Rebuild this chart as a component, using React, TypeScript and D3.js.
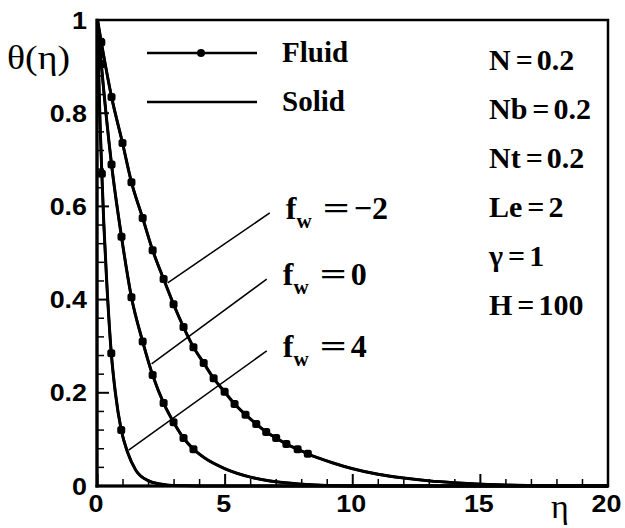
import React from "react";
import * as d3 from "d3";

// ---- data ----
const etaFw4 = [0, 0.05, 0.1, 0.17, 0.25, 0.35, 0.54, 0.7, 0.93, 1.18, 1.5, 2, 2.5, 3, 4, 20];
const thetaFw4 = [1, 0.88, 0.78, 0.67, 0.56, 0.45, 0.285, 0.2, 0.12, 0.072, 0.034, 0.011, 0.004, 0.001, 0, 0];
const markEtaFw4 = [0.17, 0.54, 0.93];
const markThetaFw4 = [0.67, 0.285, 0.12];

const etaFw0 = [0, 0.15, 0.55, 0.94, 1.33, 1.77, 2.16, 2.59, 2.98, 3.37, 3.76, 4.2, 5, 6, 7, 8, 9, 10, 20];
const thetaFw0 = [1, 0.905, 0.69, 0.535, 0.405, 0.31, 0.238, 0.178, 0.137, 0.103, 0.079, 0.06, 0.037, 0.019, 0.009, 0.004, 0.001, 0, 0];
const markEtaFw0 = [0.15, 0.55, 0.94, 1.33, 1.77, 2.16, 2.59, 2.98, 3.37, 3.76];
const markThetaFw0 = [0.905, 0.69, 0.535, 0.405, 0.31, 0.238, 0.178, 0.137, 0.103, 0.079];

const etaFwm2 = [0, 0.15, 0.55, 0.98, 1.33, 1.77, 2.16, 2.59, 2.98, 3.37, 3.76, 4.16, 4.55, 4.98, 5.37, 5.8, 6.22, 6.61, 7.0, 7.4, 7.84, 8.24, 9.2, 10, 11, 12, 13, 14, 15, 16, 17, 18, 20];
const thetaFwm2 = [1, 0.952, 0.835, 0.736, 0.652, 0.575, 0.506, 0.444, 0.39, 0.341, 0.298, 0.264, 0.231, 0.202, 0.176, 0.153, 0.133, 0.116, 0.103, 0.09, 0.079, 0.069, 0.05, 0.037, 0.025, 0.017, 0.011, 0.007, 0.004, 0.002, 0.001, 0, 0];
const markEtaFwm2 = [0.15, 0.55, 0.98, 1.33, 1.77, 2.16, 2.59, 2.98, 3.37, 3.76, 4.16, 4.55, 4.98, 5.37, 5.8, 6.22, 6.61, 7.0, 7.4, 7.84, 8.24];
const markThetaFwm2 = [0.952, 0.835, 0.736, 0.652, 0.575, 0.506, 0.444, 0.39, 0.341, 0.298, 0.264, 0.231, 0.202, 0.176, 0.153, 0.133, 0.116, 0.103, 0.09, 0.079, 0.069];

// solid phase profiles coincide with the fluid ones (H = 100)
const solidEta = [etaFwm2, etaFw0, etaFw4];
const solidTheta = [thetaFwm2, thetaFw0, thetaFw4];

const xTicks = [0, 5, 10, 15, 20];
const xTickLabels = ["0", "5", "10", "15", "20"];
const yTicks = [0, 0.2, 0.4, 0.6, 0.8, 1];
const yTickLabels = ["0", "0.2", "0.4", "0.6", "0.8", "1"];

const paramNames = ["N", "Nb", "Nt", "Le", "γ", "H"];
const paramValues = ["0.2", "0.2", "0.2", "2", "1", "100"];
const annotValues = ["−2", "0", "4"];
const annotFrom = [[2.75, 0.436], [2.12, 0.262], [1.22, 0.077]];
const annotTo = [[6.75, 0.586], [6.63, 0.444], [6.63, 0.29]];
const legendLabels = ["Fluid", "Solid"];

const W = 625, H = 528;
const x = d3.scaleLinear().domain([0, 20]).range([97.5, 608]);
const y = d3.scaleLinear().domain([0, 1]).range([486, 20]);

const fluidSets = [
  { eta: etaFwm2, th: thetaFwm2, me: markEtaFwm2, mt: markThetaFwm2 },
  { eta: etaFw0, th: thetaFw0, me: markEtaFw0, mt: markThetaFw0 },
  { eta: etaFw4, th: thetaFw4, me: markEtaFw4, mt: markThetaFw4 },
];

const SANS = "'Liberation Sans', Arimo, Arial, sans-serif";
const SERIF = "'Liberation Serif', Tinos, 'Times New Roman', serif";

export default function App() {
  const line = d3
    .line<[number, number]>()
    .x((d) => x(d[0]))
    .y((d) => y(d[1]))
    .curve(d3.curveMonotoneX);

  const xMinor = d3.range(0, 20.001, 1).filter((v) => Math.abs(v % 5) > 1e-6);
  const yMinor = d3.range(0, 1.0001, 0.04).filter((v) => Math.abs((v / 0.2) - Math.round(v / 0.2)) > 1e-6);

  const sansBold = { fontFamily: SANS, fontWeight: 700, fontSize: 24 } as const;
  const serifBold = { fontFamily: SERIF, fontWeight: 700, fontSize: 30 } as const;
  const serif = { fontFamily: SERIF, fontSize: 34 } as const;

  return (
    <svg width={W} height={H} style={{ position: "absolute", left: 0, top: 0, background: "#fff" }}>
      <rect x={0} y={0} width={W} height={H} fill="#fff" />
      {/* solid curves */}
      {solidEta.map((eta, i) => (
        <path key={"s" + i} d={line(eta.map((e, j) => [e, solidTheta[i][j]]) as [number, number][]) || ""} fill="none" stroke="#000" strokeWidth={3} />
      ))}
      {/* fluid curves */}
      {fluidSets.map((s, i) => (
        <g key={"f" + i}>
          <path d={line(s.eta.map((e, j) => [e, s.th[j]]) as [number, number][]) || ""} fill="none" stroke="#000" strokeWidth={2.6} />
          {s.me.map((e, j) => (
            <rect key={j} x={x(e) - 4} y={y(s.mt[j]) - 4} width={8} height={8} rx={2.5} fill="#000" />
          ))}
        </g>
      ))}
      {/* annotation leader lines */}
      {annotFrom.map((f, i) => (
        <line key={"a" + i} x1={x(f[0])} y1={y(f[1])} x2={x(annotTo[i][0])} y2={y(annotTo[i][1])} stroke="#000" strokeWidth={1.5} />
      ))}
      {annotValues.map((v, i) => {
        const bx = x(annotTo[i][0]) + 16;
        const by = y(annotTo[i][1]) + 6;
        return (
          <g key={"at" + i}>
            <text x={bx} y={by} style={{ ...serifBold, fontSize: 32 }}>
              f
              <tspan dy={9} style={{ fontSize: 21 }}>w</tspan>
            </text>
            <text x={bx + 37} y={by} style={{ ...serifBold, fontSize: 32 }} textLength={27} lengthAdjust="spacingAndGlyphs">=</text>
            <text x={bx + 68} y={by} style={{ ...serifBold, fontSize: 32 }}>{v}</text>
          </g>
        );
      })}
      {/* frame */}
      <rect x={97} y={20} width={511} height={466} fill="none" stroke="#000" strokeWidth={2.5} />
      <line x1={97} y1={18.8} x2={97} y2={487.5} stroke="#000" strokeWidth={3.2} />
      <line x1={95.5} y1={486} x2={609} y2={486} stroke="#000" strokeWidth={3.2} />
      {/* ticks */}
      {xTicks.map((t) => (
        <line key={"xt" + t} x1={x(t)} x2={x(t)} y1={486} y2={474} stroke="#000" strokeWidth={2} />
      ))}
      {xMinor.map((t) => (
        <line key={"xm" + t} x1={x(t)} x2={x(t)} y1={486} y2={479} stroke="#000" strokeWidth={1.5} />
      ))}
      {yTicks.map((t) => (
        <line key={"yt" + t} x1={97} x2={109} y1={y(t)} y2={y(t)} stroke="#000" strokeWidth={2} />
      ))}
      {yMinor.map((t) => (
        <line key={"ym" + t} x1={97} x2={104} y1={y(t)} y2={y(t)} stroke="#000" strokeWidth={1.5} />
      ))}
      {/* tick labels */}
      {xTicks.map((t, i) => (
        <text key={"xl" + t} transform={`translate(${x(t) - 1.5},512) scale(1.12,1)`} textAnchor="middle" style={sansBold}>
          {xTickLabels[i]}
        </text>
      ))}
      {yTicks.map((t, i) => (
        <text key={"yl" + t} transform={`translate(87,${y(t) + 8.5}) scale(1.12,1)`} textAnchor="end" style={sansBold}>
          {yTickLabels[i]}
        </text>
      ))}
      {/* axis titles */}
      <text x={7} y={69} style={serif} textLength={63} lengthAdjust="spacingAndGlyphs">θ(η)</text>
      <text x={551} y={518} style={serif}>η</text>
      {/* legend */}
      {legendLabels.map((l, i) => (
        <g key={"lg" + i}>
          <line x1={147} x2={257} y1={53 + i * 49} y2={53 + i * 49} stroke="#000" strokeWidth={2.6} />
          {i === 0 && <circle cx={201} cy={53} r={4} fill="#000" />}
          <text x={282} y={62 + i * 49} style={{ ...serifBold, fontSize: 29 }}>{l}</text>
        </g>
      ))}
      {/* parameter labels */}
      {paramNames.map((p, i) => (
        <text key={"p" + i} x={489} y={70 + i * 49} style={serifBold}>
          {p}
          <tspan dx={5}>=</tspan>
          <tspan dx={4}>{paramValues[i]}</tspan>
        </text>
      ))}
    </svg>
  );
}
